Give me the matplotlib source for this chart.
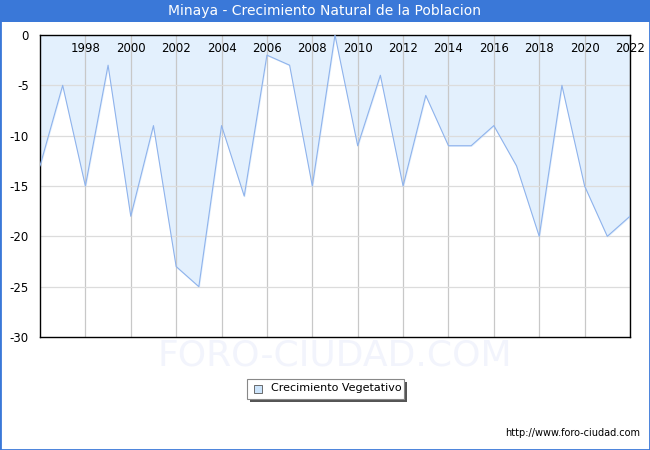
import matplotlib.pyplot as plt
import matplotlib.patches as mpatches
import numpy as np

# --- data ---
years = list(range(1996, 2023))
crecimiento = [-13, -5, -15, -3, -18, -9, -23, -25, -9, -16, -2, -3, -15, 0,
               -11, -4, -15, -6, -11, -11, -9, -13, -20, -5, -15, -20, -18]
xtick_years = list(range(1998, 2023, 2))
yticks = [0, -5, -10, -15, -20, -25, -30]

W, H = 650, 450
fig = plt.figure(figsize=(W / 100, H / 100), dpi=100)
fig.patch.set_facecolor('white')

# border + title bar
border = '#3a78d8'
fig.add_artist(mpatches.Rectangle((0, 0), 1, 1, transform=fig.transFigure,
                                  facecolor='none', edgecolor=border, lw=2))
fig.add_artist(mpatches.Rectangle((0, 1 - 22 / H), 1, 22 / H, transform=fig.transFigure,
                                  facecolor=border, edgecolor='none'))
fig.text(0.5, 1 - 11 / H, 'Minaya - Crecimiento Natural de la Poblacion',
         ha='center', va='center', color='white', fontsize=10)

# plot area: x 40..630, y 35..337 px
ax = fig.add_axes([40 / W, 1 - 337 / H, 590 / W, 302 / H])
ax.set_xlim(1996, 2022)
ax.set_ylim(-30, 0)

# watermark
ax.text(0.5, -0.06, 'FORO-CIUDAD.COM', transform=ax.transAxes, ha='center', va='center',
        fontsize=26, color='#f2f4fc', zorder=0)

ax.fill_between(years, crecimiento, 0, color='#e3f0fd', zorder=1)
ax.plot(years, crecimiento, color='#8fb3ec', lw=0.8, zorder=3)

for yr in xtick_years:
    ax.axvline(yr, color='#c8c8c8', lw=0.9, zorder=2)
for v in yticks[1:-1]:
    ax.axhline(v, color='#dcdcdc', lw=0.9, zorder=2)

ax.set_xticks([])
ax.set_yticks(yticks)
ax.set_yticklabels([str(v) for v in yticks], fontsize=8.5)
ax.tick_params(axis='y', length=0, pad=8)
for yr in xtick_years:
    ax.text(yr, -1.3, str(yr), ha='center', va='center', fontsize=8.5, zorder=4)

for s in ax.spines.values():
    s.set_color('black')
    s.set_linewidth(1)

# legend box with shadow
lx, ly, lw_, lh = 247 / W, 1 - 399 / H, 157 / W, 20 / H
fig.add_artist(mpatches.Rectangle((lx + 3 / W, ly - 3 / H), lw_, lh, transform=fig.transFigure,
                                  facecolor='#555555', edgecolor='none'))
fig.add_artist(mpatches.Rectangle((lx, ly), lw_, lh, transform=fig.transFigure,
                                  facecolor='white', edgecolor='#888888', lw=0.8))
fig.add_artist(mpatches.Rectangle((254 / W, 1 - 393 / H), 8 / W, 8 / H, transform=fig.transFigure,
                                  facecolor='#cce4fb', edgecolor='#555555', lw=0.6))
fig.text(271 / W, 1 - 388 / H, 'Crecimiento Vegetativo', ha='left', va='center', fontsize=8)

fig.text(640 / W, 1 - 433 / H, 'http://www.foro-ciudad.com', ha='right', va='center', fontsize=7)

fig.savefig('out.png', dpi=100)
